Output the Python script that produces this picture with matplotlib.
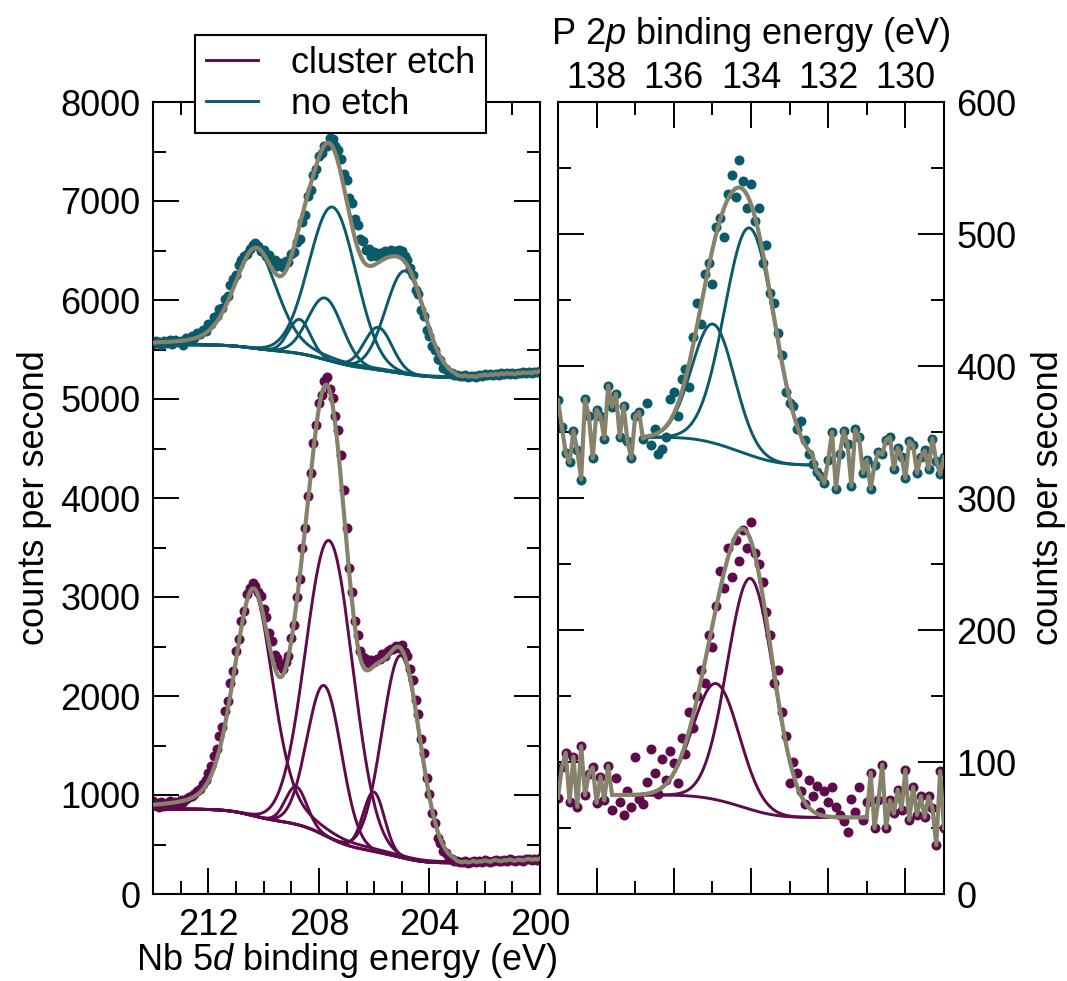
import numpy as np
import matplotlib
matplotlib.use("Agg")
import matplotlib.pyplot as plt
from matplotlib.ticker import MultipleLocator
from matplotlib.lines import Line2D

plt.rcParams["font.family"] = ["Liberation Sans", "DejaVu Sans"]
plt.rcParams["mathtext.fontset"] = "custom"
plt.rcParams["mathtext.rm"] = "Liberation Sans"
plt.rcParams["mathtext.it"] = "Liberation Sans:italic"

ETCH_COLOR = "#5f0b4b"
NOETCH_COLOR = "#0b5a69"
FIT_COLOR = "#86826c"
LABELS = ["cluster etch", "no etch"]

# ---------------- Nb 5d region ----------------
nb_energy = np.linspace(214.0, 200.0, 141)

nb_counts_etch = np.array([
    940, 905, 880, 925, 890, 915, 935, 900, 925, 910,
    945, 930, 960, 975, 990, 1010, 1040, 1060, 1110, 1150,
    1220, 1290, 1390, 1460, 1600, 1690, 1850, 1950, 2130, 2250,
    2450, 2580, 2760, 2860, 3030, 3090, 3140, 3110, 3050, 3010,
    2880, 2800, 2640, 2560, 2410, 2380, 2310, 2270, 2340, 2400,
    2590, 2720, 3000, 3180, 3490, 3700, 4020, 4250, 4560, 4740,
    4960, 5040, 5180, 5220, 5100, 5010, 4830, 4690, 4430, 4080,
    3700, 3290, 3050, 2760, 2620, 2450, 2390, 2370, 2330, 2360,
    2340, 2370, 2370, 2420, 2400, 2450, 2470, 2470, 2510, 2480,
    2520, 2440, 2400, 2270, 2160, 1960, 1820, 1570, 1420, 1170,
    1010, 820, 720, 570, 520, 430, 410, 360, 355, 330,
    335, 325, 320, 330, 318, 325, 335, 322, 330, 328,
    340, 332, 325, 338, 345, 335, 330, 342, 338, 350,
    340, 335, 348, 345, 338, 350, 355, 345, 352, 348, 360,
])

nb_counts_noetch = np.array([
    5560, 5590, 5575, 5548, 5585, 5570, 5595, 5560, 5600, 5575,
    5585, 5545, 5615, 5600, 5640, 5620, 5668, 5655, 5700, 5690,
    5760, 5760, 5830, 5840, 5910, 5920, 6010, 6040, 6150, 6210,
    6250, 6350, 6400, 6440, 6460, 6520, 6560, 6580, 6545, 6500,
    6510, 6440, 6450, 6380, 6400, 6340, 6370, 6330, 6390, 6380,
    6460, 6480, 6590, 6620, 6790, 6860, 7050, 7110, 7260, 7320,
    7450, 7480, 7560, 7560, 7640, 7630, 7560, 7520, 7420, 7270,
    7210, 7030, 6980, 6820, 6760, 6620, 6600, 6510, 6520, 6440,
    6480, 6440, 6470, 6450, 6490, 6470, 6510, 6480, 6500, 6510,
    6490, 6440, 6400, 6320, 6250, 6100, 6060, 5900, 5840, 5700,
    5640, 5540, 5500, 5400, 5390, 5310, 5300, 5260, 5265, 5240,
    5245, 5235, 5230, 5240, 5225, 5232, 5228, 5222, 5240, 5235,
    5248, 5238, 5250, 5242, 5255, 5245, 5260, 5250, 5262, 5255,
    5258, 5250, 5265, 5258, 5270, 5262, 5268, 5260, 5275, 5270, 5285,
])

nb_fit_range = (203.1, 214.0)
# peak model: centre (eV), height (counts/s), FWHM (eV), Lorentzian fraction
nb_centers_etch = [210.37, 207.62, 207.80, 208.82, 205.03, 206.01]
nb_heights_etch = [2280, 3000, 1510, 380, 2040, 600]
nb_fwhm_etch = [1.70, 2.00, 1.46, 0.90, 1.60, 0.90]
nb_lorentz_etch = [0.35, 0.0, 0.0, 0.0, 0.0, 0.0]
nb_bg_etch = (860, 315)          # Shirley levels: high-BE end, low-BE end

nb_centers_noetch = [210.28, 207.50, 207.77, 208.70, 204.88, 205.85]
nb_heights_noetch = [1010, 1560, 620, 345, 1040, 430]
nb_fwhm_noetch = [1.85, 2.00, 1.46, 0.94, 1.65, 1.18]
nb_lorentz_noetch = [0.35, 0.0, 0.0, 0.0, 0.0, 0.0]
nb_bg_noetch = (5550, 5220)

# ---------------- P 2p region ----------------
p_energy = np.linspace(139.0, 129.0, 101)

p_counts_etch = np.array([
    73, 96, 107, 70, 104, 66, 112, 75, 91, 96,
    69, 89, 71, 97, 64, 88, 70, 60, 78, 66,
    104, 72, 68, 85, 110, 92, 76, 102, 86, 108,
    99, 84, 118, 106, 138, 126, 150, 170, 160, 196,
    187, 218, 245, 232, 262, 240, 268, 252, 276, 262,
    282, 258, 250, 236, 214, 196, 160, 170, 138, 120,
    84, 100, 92, 78, 68, 86, 74, 82, 62, 78,
    70, 81, 66, 60, 55, 47, 72, 62, 81, 56,
    70, 92, 50, 71, 98, 50, 71, 61, 79, 64,
    94, 56, 81, 60, 74, 58, 74, 65, 37, 93,
    50,
])

p_counts_noetch = np.array([
    374, 354, 334, 327, 351, 336, 314, 375, 362, 330,
    367, 362, 345, 385, 369, 379, 346, 370, 343, 330,
    362, 365, 345, 372, 340, 352, 333, 337, 346, 375,
    380, 362, 390, 398, 384, 422, 448, 432, 470, 478,
    462, 505, 512, 498, 530, 545, 528, 556, 540, 520,
    538, 510, 520, 478, 492, 455, 448, 425, 408, 380,
    372, 370, 352, 358, 344, 333, 326, 320, 317, 311,
    329, 350, 307, 333, 351, 341, 309, 352, 346, 319,
    329, 307, 325, 335, 333, 344, 346, 322, 338, 331,
    315, 343, 340, 319, 331, 336, 322, 345, 328, 318,
    331,
])

p_fit_range_etch = (131.0, 137.6)
p_centers_etch = [134.01, 134.90]
p_heights_etch = [175, 88]
p_fwhm_etch = [1.41, 1.41]
p_lorentz_etch = [0.0, 0.0]
p_bg_etch = (75, 58)

p_fit_range_noetch = (132.4, 136.7)
p_centers_noetch = [134.03, 134.98]
p_heights_noetch = [172, 90]
p_fwhm_noetch = [1.53, 1.30]
p_lorentz_noetch = [0.0, 0.0]
p_bg_noetch = (346, 325)


def peak(x, c, h, w, m):
    g = np.exp(-4 * np.log(2) * (x - c) ** 2 / w ** 2)
    lor = 1.0 / (1.0 + 4 * (x - c) ** 2 / w ** 2)
    return h * ((1 - m) * g + m * lor)


def fit_model(fit_range, centers, heights, fwhm, lorentz, bg):
    x = np.linspace(fit_range[0], fit_range[1], 800)
    comps = [peak(x, c, h, w, m) for c, h, w, m in zip(centers, heights, fwhm, lorentz)]
    total = np.sum(comps, axis=0)
    cum = np.concatenate([[0.0], np.cumsum(0.5 * (total[1:] + total[:-1]) * np.diff(x))])
    base = bg[1] + (bg[0] - bg[1]) * cum / cum[-1]
    return x, base, comps, base + total


def draw_spectrum(ax, energy, counts, model, color):
    x, base, comps, env = model
    ax.plot(energy, counts, "o", ms=7.2, mec="none", color=color, zorder=2)
    ax.plot(x, base, color=color, lw=2.1, zorder=3)
    for comp in comps:
        ax.plot(x, base + comp, color=color, lw=2.1, zorder=3)
    above = energy > x.max() + 1e-6
    below = energy < x.min() - 1e-6
    xs = np.concatenate([energy[above], x[::-1], energy[below]])
    ys = np.concatenate([counts[above], env[::-1], counts[below]])
    ax.plot(xs, ys, color=FIT_COLOR, lw=3.0, zorder=4, solid_joinstyle="round")


def style_axes(ax):
    for sp in ax.spines.values():
        sp.set_linewidth(1.5)
    ax.tick_params(which="both", direction="in", width=1.4, labelsize=26,
                   top=True, bottom=True, left=True, right=True)
    ax.tick_params(which="major", length=19)
    ax.tick_params(which="minor", length=9.5)


fig = plt.figure(figsize=(10.67, 9.81), dpi=100)
W, H = 1067.0, 981.0
axL = fig.add_axes([153 / W, 87 / H, 387 / W, 792 / H])
axR = fig.add_axes([558 / W, 87 / H, 386 / W, 792 / H])

# Nb 5d panel
draw_spectrum(axL, nb_energy, nb_counts_noetch,
              fit_model(nb_fit_range, nb_centers_noetch, nb_heights_noetch,
                        nb_fwhm_noetch, nb_lorentz_noetch, nb_bg_noetch), NOETCH_COLOR)
draw_spectrum(axL, nb_energy, nb_counts_etch,
              fit_model(nb_fit_range, nb_centers_etch, nb_heights_etch,
                        nb_fwhm_etch, nb_lorentz_etch, nb_bg_etch), ETCH_COLOR)
axL.set_xlim(214, 200)
axL.set_ylim(0, 8000)
axL.xaxis.set_major_locator(MultipleLocator(4))
axL.xaxis.set_minor_locator(MultipleLocator(1))
axL.yaxis.set_major_locator(MultipleLocator(1000))
axL.yaxis.set_minor_locator(MultipleLocator(500))
style_axes(axL)
axL.tick_params(axis="x", which="both", labelbottom=True, labeltop=False, pad=10)
axL.tick_params(axis="y", which="both", labelleft=True, labelright=False, pad=9)
axL.set_xlabel(r"Nb 5$\mathit{d}$ binding energy (eV)", fontsize=26, labelpad=-1)
axL.set_ylabel("counts per second", fontsize=26, labelpad=6)

# P 2p panel
draw_spectrum(axR, p_energy, p_counts_noetch,
              fit_model(p_fit_range_noetch, p_centers_noetch, p_heights_noetch,
                        p_fwhm_noetch, p_lorentz_noetch, p_bg_noetch), NOETCH_COLOR)
draw_spectrum(axR, p_energy, p_counts_etch,
              fit_model(p_fit_range_etch, p_centers_etch, p_heights_etch,
                        p_fwhm_etch, p_lorentz_etch, p_bg_etch), ETCH_COLOR)
axR.set_xlim(139, 129)
axR.set_ylim(0, 600)
axR.xaxis.set_major_locator(MultipleLocator(2))
axR.xaxis.set_minor_locator(MultipleLocator(1))
axR.yaxis.set_major_locator(MultipleLocator(100))
axR.yaxis.set_minor_locator(MultipleLocator(50))
style_axes(axR)
axR.tick_params(axis="x", which="both", labelbottom=False, labeltop=True, pad=4.5)
axR.tick_params(axis="y", which="both", labelleft=False, labelright=True, pad=9)
axR.xaxis.set_label_position("top")
axR.yaxis.set_label_position("right")
axR.set_xlabel(r"P 2$\mathit{p}$ binding energy (eV)", fontsize=26, labelpad=12)
axR.set_ylabel("counts per second", fontsize=26, labelpad=10)

handles = [Line2D([], [], color=ETCH_COLOR, lw=2.1),
           Line2D([], [], color=NOETCH_COLOR, lw=2.1)]
leg = fig.legend(handles, LABELS, loc="upper left",
                 bbox_to_anchor=(195 / W, 1 - 35 / H), borderaxespad=0,
                 fontsize=26, frameon=True, fancybox=False, framealpha=1,
                 edgecolor="black", handlelength=1.45, handletextpad=0.9,
                 labelspacing=0.17, borderpad=0.3)
leg.get_frame().set_linewidth(1.5)
leg.set_zorder(10)

fig.savefig("out.png", dpi=100)
